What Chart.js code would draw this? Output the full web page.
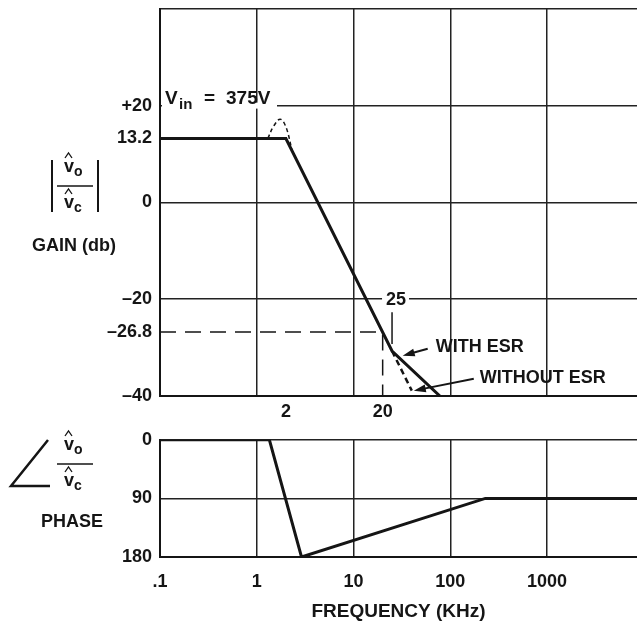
<!DOCTYPE html>
<html>
<head>
<meta charset="utf-8">
<script src="https://cdn.jsdelivr.net/npm/chart.js@4.4.0/dist/chart.umd.min.js"></script>
<style>
  html, body { margin: 0; padding: 0; background: #fff; overflow: hidden; }
  #wrap { position: relative; width: 637px; height: 624px; overflow: hidden; }
  #gainBox { position: absolute; left: 0; top: -10px; width: 637px; height: 435px; }
  #phaseBox { position: absolute; left: 0; top: 421px; width: 637px; height: 203px; }
</style>
</head>
<body>
<div id="wrap">
  <div id="gainBox"><canvas id="gainChart" width="637" height="435"></canvas></div>
  <div id="phaseBox"><canvas id="phaseChart" width="637" height="203"></canvas></div>
</div>
<script>
const FONT = '"Liberation Sans", Arial, Helvetica, sans-serif';
const INK = '#151515';
const G = 10;   // gain canvas sits 10px above the page top
const P = -421; // phase canvas top on the page

// gain curve, kHz vs dB
const gainFreq = [0.1, 2, 25, 78];
const gainDb = [13.2, 13.2, -30.7, -40];
// without ESR branch
const noEsrFreq = [25, 40];
const noEsrDb = [-30.7, -38.9];
// resonant peak near 2 kHz
const peakFreq = [1.3, 1.5, 1.75, 2.0, 2.3];
const peakDb = [13.2, 15.8, 17.2, 15.6, 11];
// -26.8 dB @ 20 kHz marker
const markFreq = [0.1, 20, 20];
const markDb = [-26.8, -26.8, -40];

// phase curve, kHz vs degrees
const phaseFreq = [0.1, 1.35, 2.9, 230, 8500];
const phaseDeg = [0, 0, 180, 90, 90];

const gainTicks = [-40, -26.8, -20, 0, 13.2, 20, 40];
const gainTickLabels = ['–40', '–26.8', '–20', '0', '13.2', '+20', ''];
const gainNoGrid = [-26.8, 13.2];
const topFreqTicks = [1, 2, 10, 20, 100, 1000];
const topFreqLabels = ['', '2', '', '20', '', ''];
const topNoGrid = [2, 20];
const freqTicks = [0.1, 1, 10, 100, 1000];
const freqLabels = ['.1', '1', '10', '100', '1000'];
const phaseTicks = [0, 90, 180];
const phaseTickLabels = ['0', '90', '180'];

const pts = (xs, ys) => xs.map((x, i) => ({ x: x, y: ys[i] }));
const tickFont = { family: FONT, size: 18, weight: 'bold' };

function arrow(ctx, x1, y1, x2, y2) {
  const a = Math.atan2(y2 - y1, x2 - x1);
  const c = Math.cos(a), s = Math.sin(a);
  ctx.lineWidth = 2;
  ctx.beginPath();
  ctx.moveTo(x1, y1);
  ctx.lineTo(x2 - 8 * c, y2 - 8 * s);
  ctx.stroke();
  ctx.beginPath();
  ctx.moveTo(x2, y2);
  ctx.lineTo(x2 - 12 * c + 4 * s, y2 - 12 * s - 4 * c);
  ctx.lineTo(x2 - 12 * c - 4 * s, y2 - 12 * s + 4 * c);
  ctx.closePath();
  ctx.fill();
}

function vhat(ctx, x, base, sub) {
  ctx.textAlign = 'left';
  ctx.textBaseline = 'alphabetic';
  ctx.font = 'bold 18px ' + FONT;
  ctx.fillText('v', x, base);
  ctx.font = 'bold 14px ' + FONT;
  ctx.fillText(sub, x + 10, base + 4);
  ctx.lineWidth = 1.3;
  ctx.beginPath();
  ctx.moveTo(x + 1, base - 14);
  ctx.lineTo(x + 4.5, base - 19);
  ctx.lineTo(x + 8, base - 14);
  ctx.stroke();
}

function fraction(ctx, top) {
  vhat(ctx, 64, top + 12, 'o');
  ctx.lineWidth = 1.5;
  ctx.beginPath();
  ctx.moveTo(57, top + 26);
  ctx.lineTo(93, top + 26);
  ctx.stroke();
  vhat(ctx, 64, top + 48, 'c');
}

const gainDecor = {
  id: 'gainDecor',
  beforeDatasetsDraw(chart) {
    const { ctx, scales: { x, y }, chartArea: a } = chart;
    ctx.save();
    ctx.fillStyle = '#fff';
    const y20 = y.getPixelForValue(20);
    ctx.fillRect(a.left + 2, y20 - 3, 115, 6);
    const ym20 = y.getPixelForValue(-20);
    const x25 = x.getPixelForValue(25);
    ctx.fillRect(x25 - 10, ym20 - 3, 27, 6);

    ctx.fillStyle = INK;
    ctx.textAlign = 'left';
    ctx.textBaseline = 'alphabetic';
    ctx.font = 'bold 19px ' + FONT;
    ctx.fillText('V', 165, y20 - 2);
    ctx.font = 'bold 15px ' + FONT;
    ctx.fillText('in', 179, y20 + 3);
    ctx.font = 'bold 19px ' + FONT;
    ctx.fillText('=', 204, y20 - 2);
    ctx.fillText('375V', 226, y20 - 2);

    ctx.textAlign = 'center';
    ctx.textBaseline = 'middle';
    ctx.font = 'bold 18px ' + FONT;
    ctx.fillText('25', x25 + 4, ym20 + 1);
    ctx.restore();
  },
  afterDatasetsDraw(chart) {
    const { ctx, scales: { x, y } } = chart;
    ctx.save();
    ctx.strokeStyle = INK;
    ctx.fillStyle = INK;

    // 25 kHz corner marker
    const x25 = x.getPixelForValue(25);
    ctx.lineWidth = 1.5;
    ctx.beginPath();
    ctx.moveTo(x25, y.getPixelForValue(-20) + 13);
    ctx.lineTo(x25, y.getPixelForValue(-30.7) - 7);
    ctx.stroke();

    ctx.font = 'bold 18px ' + FONT;
    ctx.textAlign = 'left';
    ctx.textBaseline = 'middle';

    let tx = x.getPixelForValue(30) + 3, ty = y.getPixelForValue(-32.3) - 3;
    arrow(ctx, tx + 25, ty - 7, tx, ty);
    ctx.fillText('WITH ESR', tx + 33, ty - 9);

    tx = x.getPixelForValue(40) + 2; ty = y.getPixelForValue(-38.9);
    arrow(ctx, tx + 60, ty - 12, tx, ty);
    ctx.fillText('WITHOUT ESR', tx + 66, ty - 13);

    // left side label |vo/vc|
    ctx.lineWidth = 2;
    ctx.beginPath();
    ctx.moveTo(52, 160 + G); ctx.lineTo(52, 212 + G);
    ctx.moveTo(98, 160 + G); ctx.lineTo(98, 212 + G);
    ctx.stroke();
    fraction(ctx, 160 + G);
    ctx.textAlign = 'center';
    ctx.textBaseline = 'middle';
    ctx.font = 'bold 18px ' + FONT;
    ctx.fillText('GAIN (db)', 74, 246 + G);
    ctx.restore();
  }
};

const phaseDecor = {
  id: 'phaseDecor',
  afterDraw(chart) {
    const { ctx } = chart;
    ctx.save();
    ctx.strokeStyle = INK;
    ctx.fillStyle = INK;
    ctx.lineWidth = 2.5;
    ctx.beginPath();
    ctx.moveTo(48, 440 + P);
    ctx.lineTo(11, 486 + P);
    ctx.lineTo(50, 486 + P);
    ctx.stroke();
    fraction(ctx, 438 + P);
    ctx.textAlign = 'center';
    ctx.textBaseline = 'middle';
    ctx.font = 'bold 18px ' + FONT;
    ctx.fillText('PHASE', 72, 522 + P);
    ctx.restore();
  }
};

const gridColor = (hidden) => (c) => (c.tick && hidden.includes(c.tick.value)) ? 'rgba(0,0,0,0)' : '#222';

const common = {
  responsive: false,
  animation: false,
  events: [],
  plugins: { legend: { display: false }, tooltip: { enabled: false } },
  elements: { point: { radius: 0 }, line: { borderColor: INK, tension: 0 } }
};

new Chart(document.getElementById('gainChart'), {
  type: 'line',
  data: {
    datasets: [
      { data: pts(gainFreq, gainDb), borderWidth: 3, borderColor: INK },
      { data: pts(noEsrFreq, noEsrDb), borderWidth: 2.5, borderColor: INK, borderDash: [6, 4] },
      { data: pts(peakFreq, peakDb), borderWidth: 1.5, borderColor: INK, borderDash: [4, 3], tension: 0.4 },
      { data: pts(markFreq, markDb), borderWidth: 1.5, borderColor: INK, borderDash: [16, 9] }
    ]
  },
  options: Object.assign({}, common, {
    layout: { padding: { top: 7, left: 0, right: 0, bottom: 0 } },
    scales: {
      x: {
        type: 'logarithmic', min: 0.1, max: 8500,
        afterBuildTicks: (s) => { s.ticks = topFreqTicks.map(v => ({ value: v })); },
        afterFit: (s) => { s.height = 29; },
        ticks: {
          autoSkip: false, maxRotation: 0, padding: 5, color: INK, font: tickFont,
          callback: (v) => topFreqLabels[topFreqTicks.indexOf(v)]
        },
        grid: { drawTicks: false, lineWidth: 1.5, color: gridColor(topNoGrid) },
        border: { display: true, color: INK, width: 2 }
      },
      y: {
        type: 'linear', min: -40, max: 40,
        afterBuildTicks: (s) => { s.ticks = gainTicks.map(v => ({ value: v })); },
        afterFit: (s) => { s.width = 160; },
        ticks: {
          padding: 8, color: INK, font: tickFont,
          callback: (v) => gainTickLabels[gainTicks.indexOf(v)]
        },
        grid: { drawTicks: false, lineWidth: 1.5, color: gridColor(gainNoGrid) },
        border: { display: true, color: INK, width: 2 }
      }
    }
  }),
  plugins: [gainDecor]
});

new Chart(document.getElementById('phaseChart'), {
  type: 'line',
  data: {
    datasets: [
      { data: pts(phaseFreq, phaseDeg), borderWidth: 3, borderColor: INK }
    ]
  },
  options: Object.assign({}, common, {
    layout: { padding: { top: 14, left: 0, right: 0, bottom: 0 } },
    scales: {
      x: {
        type: 'logarithmic', min: 0.1, max: 8500,
        afterBuildTicks: (s) => { s.ticks = freqTicks.map(v => ({ value: v })); },
        afterFit: (s) => { s.height = 67; },
        ticks: {
          autoSkip: false, maxRotation: 0, padding: 14, color: INK, font: tickFont,
          callback: (v) => freqLabels[freqTicks.indexOf(v)]
        },
        title: {
          display: true, text: 'FREQUENCY (KHz)', color: INK,
          font: { family: FONT, size: 19, weight: 'bold' },
          padding: { top: 0, bottom: 1 }
        },
        grid: { drawTicks: false, lineWidth: 1.5, color: gridColor([0.1]) },
        border: { display: true, color: INK, width: 2 }
      },
      y: {
        type: 'linear', min: 0, max: 180, reverse: true,
        afterBuildTicks: (s) => { s.ticks = phaseTicks.map(v => ({ value: v })); },
        afterFit: (s) => { s.width = 160; },
        ticks: {
          padding: 8, color: INK, font: tickFont,
          callback: (v) => phaseTickLabels[phaseTicks.indexOf(v)]
        },
        grid: { drawTicks: false, lineWidth: 1.5, color: '#222' },
        border: { display: true, color: INK, width: 2 }
      }
    }
  }),
  plugins: [phaseDecor]
});
</script>
</body>
</html>
